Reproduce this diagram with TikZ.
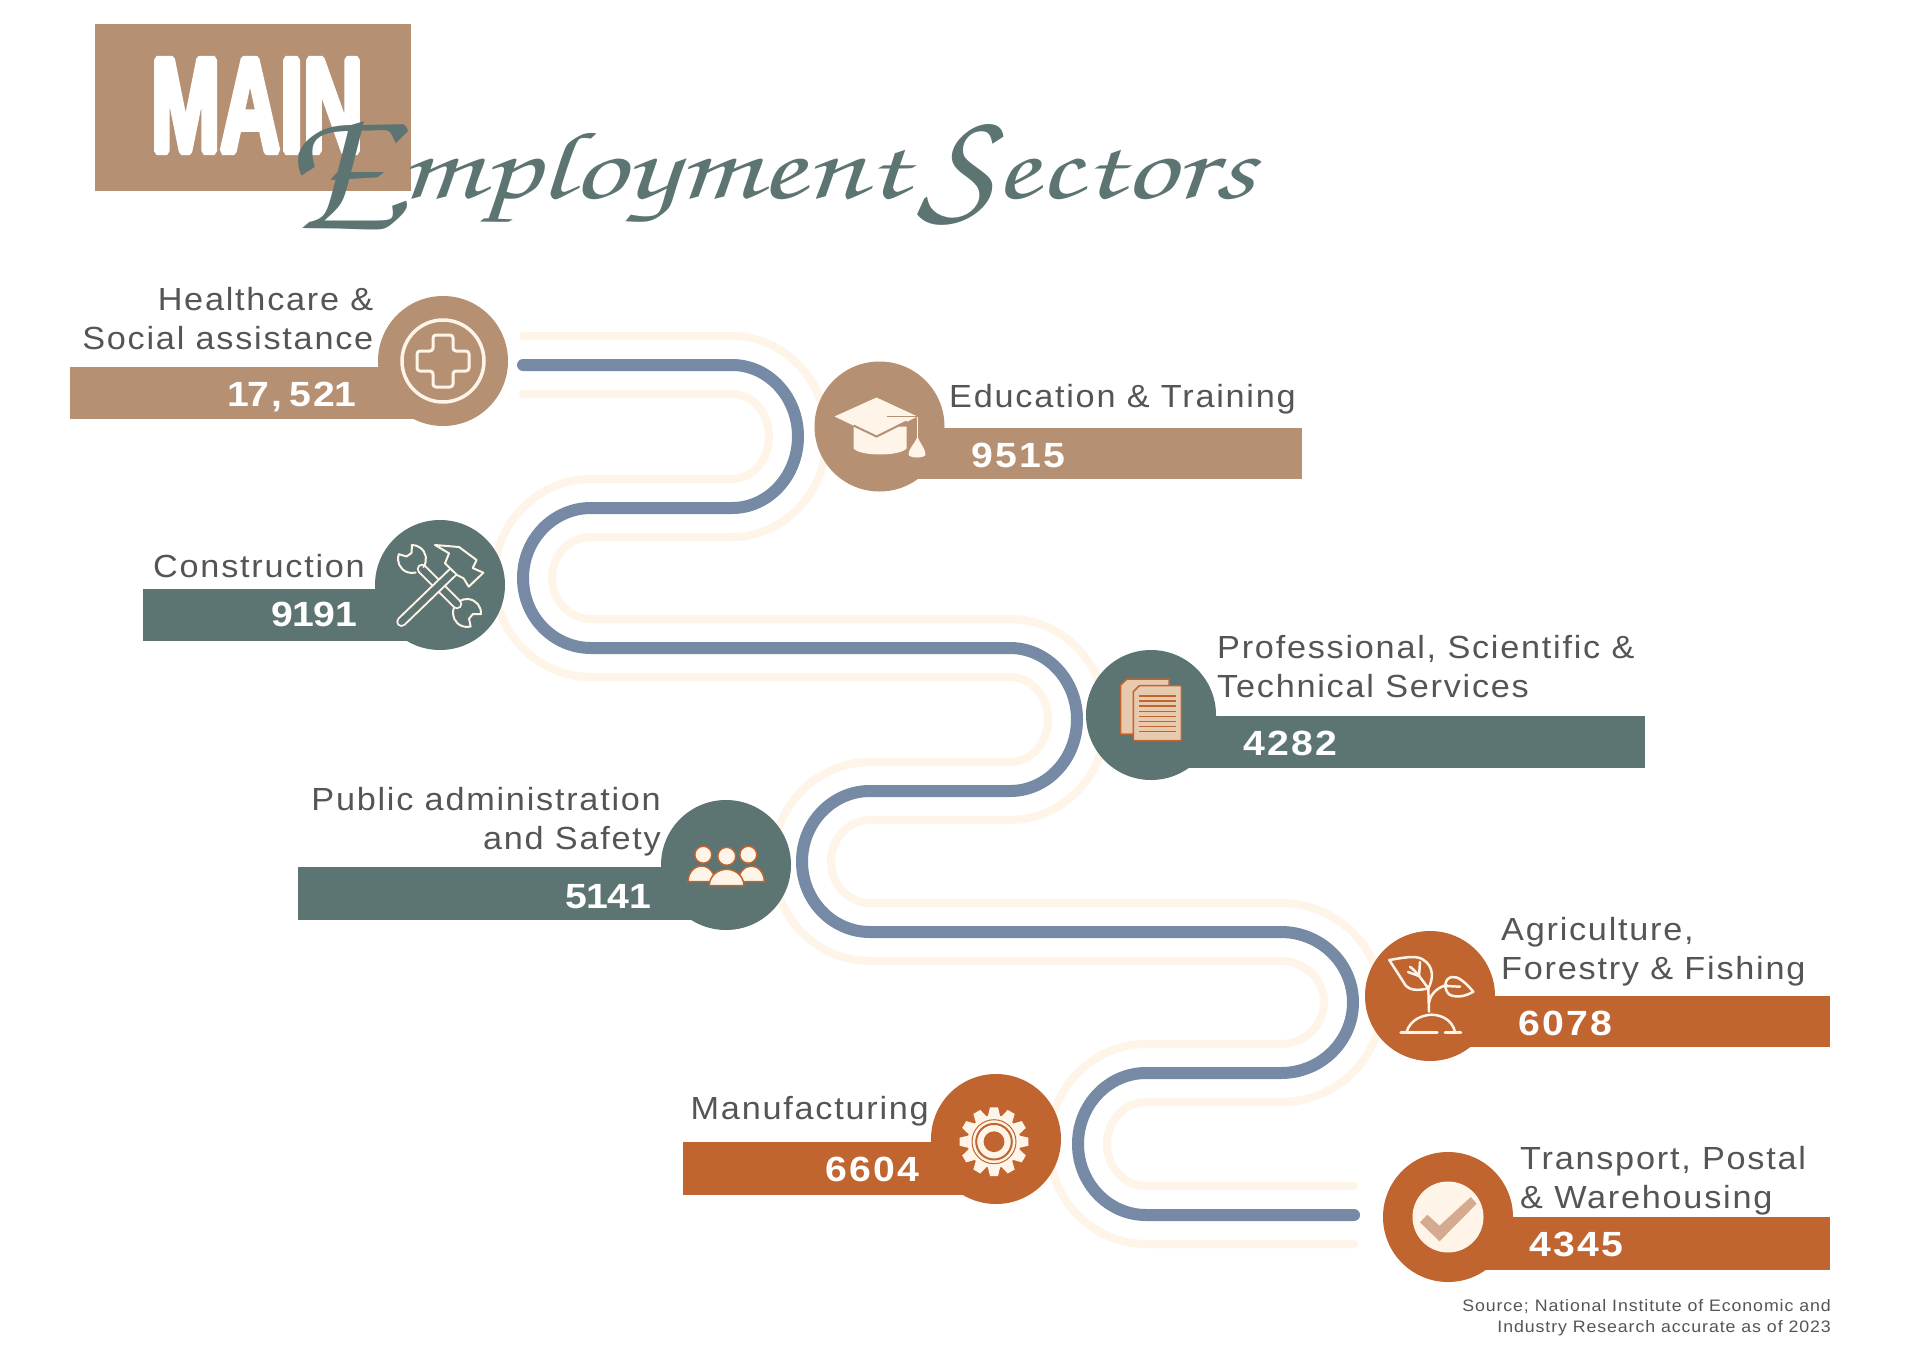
\documentclass[tikz,border=0pt]{standalone}
\usepackage{graphicx}
\usepackage{fontspec}
\newfontfamily\labelfont[LetterSpace=5.5,FakeStretch=1.07]{Liberation Sans}
\newfontfamily\numfont[LetterSpace=6.5,FakeStretch=1.12]{Liberation Sans}
\newfontfamily\bannerfont[FakeBold=6]{Liberation Sans}

\definecolor{tan}{HTML}{B59073}
\definecolor{slate}{HTML}{5C7472}
\definecolor{rust}{HTML}{C06530}
\definecolor{steel}{HTML}{7689A5}
\definecolor{cream}{HTML}{FEF4E8}
\definecolor{paper}{HTML}{E8CBAE}
\definecolor{tick}{HTML}{D6AA8E}
\definecolor{ink}{HTML}{555555}

\tikzset{
	bubble/.style={circle,minimum size=130pt,inner sep=0pt},
	lbl/.style={text=ink,inner sep=0pt,font=\labelfont\fontsize{32}{39}\selectfont},
	num/.style={text=white,inner sep=0pt,font=\numfont\bfseries\fontsize{35}{40}\selectfont},
	icon/.style={draw=cream,line width=3pt,line join=round,line cap=round},
	rod/.style={draw=cream,line width=2pt,double=slate,double distance=6.5pt,line cap=round},
}

% one winding line, #2 is its offset from the middle one
\newcommand{\windline}[2]{
	\draw[#1] (523,-365+#2)--(732,-365+#2)
		arc[start angle=90,end angle=-90,x radius=66+(#2),y radius=71.5+(#2)]
		--(591,-508-#2)
		arc[start angle=90,end angle=270,x radius=68-(#2),y radius=70-(#2)]
		--(1010,-648+#2)
		arc[start angle=90,end angle=-90,x radius=67+(#2),y radius=71.5+(#2)]
		--(870,-791-#2)
		arc[start angle=90,end angle=270,x radius=68-(#2),y radius=70.5-(#2)]
		--(1281,-932+#2)
		arc[start angle=90,end angle=-90,x radius=72+(#2),y radius=70.5+(#2)]
		--(1146,-1073-#2)
		arc[start angle=90,end angle=270,x radius=68-(#2),y radius=71-(#2)]
		--(1354,-1215+#2);
}

\newcommand{\wrenchhead}[2]{
	\begin{scope}[shift={#1},rotate=#2]
	\draw[icon,line width=2pt] (35:14) arc[start angle=35,end angle=160,radius=14];
	\draw[icon,line width=2pt] (200:14) arc[start angle=200,end angle=325,radius=14]
		--(-30:6)--(30:6)--(35:14);
	\end{scope}
}

\begin{document}
\begin{tikzpicture}[x=1pt,y=1pt]

\useasboundingbox (0,0) rectangle (1920,-1357);
\fill[white] (0,0) rectangle (1920,-1357);

% title
\fill[tan] (95,-24) rectangle (411,-191);
\begin{scope}[line join=bevel]
\node[text=white,inner sep=0pt] (maintitle) at (257,-105.5)
	{\resizebox{212pt}{91pt}{\bannerfont\bfseries MAIN}};
\end{scope}
\node[text=slate,inner sep=0pt,anchor=base west] (scripttitle) at (284,-198)
	{\fontencoding{T1}\fontfamily{pzc}\fontseries{m}\fontshape{it}\fontsize{96}{98}\selectfont
	\scalebox{1.38}[1]{\raisebox{-30pt}{\scalebox{1.4}[1.9]{E}}mployment}\hspace{10pt}\scalebox{1.34}[1]{\raisebox{-16pt}{\scalebox{1.3}[1.6]{S}}ectors}};

% the road
\windline{cream,line width=8pt,line cap=round}{29}
\windline{cream,line width=8pt,line cap=round}{-29}
\windline{steel,line width=12pt,line cap=round}{0}

% bands
\fill[tan] (70,-367) rectangle (443,-419);
\fill[tan] (880,-428) rectangle (1302,-479);
\fill[slate] (143,-589) rectangle (440,-641);
\fill[slate] (1151,-716) rectangle (1645,-768);
\fill[slate] (298,-867) rectangle (726,-920);
\fill[rust] (1430,-996) rectangle (1830,-1047);
\fill[rust] (683,-1142) rectangle (996,-1195);
\fill[rust] (1448,-1217) rectangle (1830,-1270);

\node[bubble,fill=tan] (health) at (443,-361) {};
\node[bubble,fill=tan] (school) at (879.5,-426.5) {};
\node[bubble,fill=slate] (build) at (440,-585) {};
\node[bubble,fill=slate] (office) at (1151,-715) {};
\node[bubble,fill=slate] (people) at (726,-865) {};
\node[bubble,fill=rust] (farm) at (1430,-996) {};
\node[bubble,fill=rust] (factory) at (996,-1139) {};
\node[bubble,fill=rust] (truck) at (1448,-1217) {};

% labels
\node[lbl,align=right,anchor=east] (healthlbl) at (373.5,-319) {Healthcare \&\\Social assistance};
\node[lbl,anchor=west] (schoollbl) at (949,-399.5) {Education \& Training};
\node[lbl,anchor=east] (buildlbl) at (365,-566) {Construction};
\node[lbl,align=left,anchor=west] (officelbl) at (1217,-667) {Professional, Scientific \&\\Technical Services};
\node[lbl,align=right,anchor=east] (peoplelbl) at (661,-822) {Public administration\\and Safety};
\node[lbl,align=left,anchor=west] (farmlbl) at (1501,-951.5) {Agriculture,\\Forestry \& Fishing};
\node[lbl,anchor=east] (factorylbl) at (929,-1111) {Manufacturing};
\node[lbl,align=left,anchor=west] (trucklbl) at (1520,-1180.5) {Transport, Postal\\\& Warehousing};

\node[num,anchor=east] (healthnum) at (356,-396.5) {1\kern-1.5pt 7, \hspace{-6pt}52\kern-1.5pt 1};
\node[num,anchor=west] (schoolnum) at (971,-455) {9515};
\node[num,anchor=east] (buildnum) at (357,-614) {9\kern-0.7pt 1\kern-0.7pt 9\kern-0.7pt 1};
\node[num,anchor=west] (officenum) at (1243,-743) {4282};
\node[num,anchor=east] (peoplenum) at (651,-897) {5\kern-0.7pt 1\kern-0.7pt 4\kern-0.7pt 1};
\node[num,anchor=west] (farmnum) at (1518,-1023) {6078};
\node[num,anchor=east] (factorynum) at (920,-1169) {6604};
\node[num,anchor=west] (trucknum) at (1529,-1244) {4345};

\node[text=ink,align=right,anchor=east,inner sep=0pt,font=\labelfont\fontsize{16.6}{21}\selectfont] (source) at (1831,-1318)
	{Source; National Institute of Economic and\\Industry Research accurate as of 2023};

% healthcare icon
\begin{scope}[shift={(health.center)}]
\draw[icon,line width=3.5pt] (0,0) circle (41);
\draw[icon,rounded corners=3pt] (-10,26)--(10,26)--(10,10)--(26,10)--(26,-10)--(10,-10)--(10,-26)--(-10,-26)--(-10,-10)--(-26,-10)--(-26,10)--(-10,10)--cycle;
\end{scope}

% mortarboard
\begin{scope}[shift={(school.center)}]
\fill[cream] (-26,0)--(27,0)--(27,-22) .. controls (20,-30) and (-19,-30) .. (-26,-22)--cycle;
\fill[cream] (-45,10)--(-3,29)--(38,10)--(-3,-10)--cycle;
\draw[tan,line width=2pt] (-26,1)--(-3,-10)--(27,5);
\draw[tan,line width=1.5pt] (7,10)--(38,10);
\draw[cream,line width=1.5pt] (38,10)--(38,-10);
\fill[cream] (38,-10) .. controls (41,-18) and (46,-22) .. (46,-28) arc[start angle=0,end angle=-180,x radius=8.5,y radius=3] .. controls (29,-22) and (35,-18) .. (38,-10)--cycle;
\end{scope}

% wrench and hammer
\begin{scope}[shift={(build.center)}]
\draw[rod] (-18,16)--(17,-19);
\wrenchhead{(-28,26)}{125}
\wrenchhead{(27,-28)}{-40}
\draw[rod] (-38.5,-36.7)--(14,14);
\draw[icon,fill=slate,line width=2pt] (5,21.7)--(9,31.7)--(-5,40)--(19,38)--(36.6,25)--(32.7,17)--(43.4,12.3)--(28.7,-1.7)--(23.6,6.7)--(17,10)--cycle;
\end{scope}

% papers
\begin{scope}[shift={(office.center)},draw=rust,line width=1.5pt,fill=paper]
\filldraw (-24,36)--(18,36)--(18,-19)--(-30.3,-19)--(-30.3,30)--cycle;
\filldraw (-11.7,29.3)--(30.3,29.3)--(30.3,-25.7)--(-17.7,-25.7)--(-17.7,23.3)--cycle;
\foreach \y in {19,13.9,...,-17}{
	\draw (-11.7,\y)--(25,\y);
}
\end{scope}

% three people
\begin{scope}[shift={(people.center)},draw=rust,line width=1.5pt,fill=cream]
\filldraw (-22.7,10.3) circle (8.5);
\filldraw (22.3,10.3) circle (8.5);
\filldraw (0.7,8.7) circle (9);
\filldraw (-38,-16.7) arc[start angle=180,end angle=0,x radius=13.5,y radius=15.7]--cycle;
\filldraw (38.3,-16.7) arc[start angle=0,end angle=180,x radius=13,y radius=15.7]--cycle;
\filldraw (-16.7,-20.7) arc[start angle=180,end angle=0,x radius=17.3,y radius=16.4]--cycle;
\end{scope}

% plant
\begin{scope}[shift={(farm.center)},icon/.append style={line width=2.5pt}]
\draw[icon] (-40.7,36) .. controls (-28,38) and (-15,41) .. (-8,37) .. controls (5,30) and (3,16) .. (-1.7,7.7) .. controls (-12,5) and (-20,6) .. (-24,10)--cycle;
\draw[icon] (-1.7,7.7) .. controls (-8,16) and (-13,24) .. (-20,29.3);
\draw[icon] (-11,20)--(-22,24);
\draw[icon] (-11,20)--(-10,34);
\draw[icon] (-1.7,7.7)--(-1,-15.7);
\draw[icon] (-1,-7) .. controls (0,2) and (8,9) .. (16.7,11);
\draw[icon] (43.3,4.3) .. controls (35,14) and (28,20) .. (22,19) .. controls (14,18) and (13,6) .. (20,1) .. controls (28,-2) and (36,0) .. (43.3,4.3)--cycle;
\draw[icon] (17,10)--(30,9.3);
\draw[icon] (-23.3,-35.7) .. controls (-20,-24) and (-8,-19) .. (1.7,-18.7) .. controls (12,-19) and (22,-24) .. (25,-35.7);
\draw[icon] (-29.3,-36.7)--(7.3,-36.7);
\draw[icon] (15,-36.7)--(31,-36.7);
\end{scope}

% gear
\begin{scope}[shift={(994,-1141.7)}]
\fill[cream] (0,0) circle (26.5);
\foreach \a in {0,30,...,330}{
	\fill[cream,rotate=\a] (24,-6.5)--(34.4,-4)--(34.4,4)--(24,6.5)--cycle;
}
\draw[rust,line width=1pt] (0,0) circle (22);
\draw[rust,line width=2pt] (0,0) circle (17.8);
\fill[rust] (0,0) circle (10.4);
\end{scope}

% tick
\begin{scope}[shift={(truck.center)}]
\fill[cream] (0,0) circle (35.5);
\fill[tick] (-28,-5.3)--(-20.7,2.3)--(-8.5,-8.7)--(22.8,20)--(28.7,13.3)--(-8.5,-24.3)--cycle;
\end{scope}

\end{tikzpicture}
\end{document}
